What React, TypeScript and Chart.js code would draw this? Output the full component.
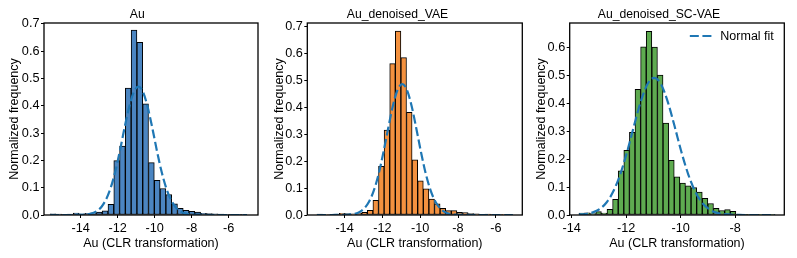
import React, { useEffect, useRef } from 'react';
import { Chart, registerables } from 'chart.js';

Chart.register(...registerables);

const FONT = "'Liberation Sans', Arial, Helvetica, sans-serif";

// ---------- Panel 1: Au ----------
const auBinCenters = [
  -15.494, -15.181, -14.869, -14.556, -14.243, -13.930, -13.618, -13.305, -12.992, -12.680,
  -12.367, -12.054, -11.742, -11.429, -11.116, -10.804, -10.491, -10.178, -9.865, -9.553,
  -9.240, -8.927, -8.615, -8.302, -7.989, -7.677, -7.364, -7.051, -6.738, -6.426,
  -6.113, -5.800, -5.488, -5.175,
];
const auFreq = [
  0.004, 0.003, 0.002, 0.003, 0.007, 0.004, 0.006, 0.008, 0.011, 0.015,
  0.039, 0.199, 0.252, 0.465, 0.677, 0.632, 0.407, 0.192, 0.127, 0.097,
  0.075, 0.041, 0.024, 0.017, 0.013, 0.011, 0.006, 0.005, 0.004, 0.003,
  0.002, 0.002, 0.001, 0.001,
];
const auFitX = [
  -15.65, -14.38, -13.88, -13.38, -13.13, -12.88, -12.63, -12.38, -12.13, -11.88,
  -11.63, -11.38, -11.13, -10.88, -10.63, -10.38, -10.13, -9.88, -9.63, -9.38,
  -9.13, -8.88, -8.63, -8.38, -7.88, -7.38, -5.02,
];
const auFitY = [
  0, 0.0001, 0.0009, 0.0062, 0.0142, 0.0295, 0.0566, 0.099, 0.159, 0.235,
  0.319, 0.395, 0.45, 0.47, 0.45, 0.395, 0.319, 0.235, 0.159, 0.099,
  0.0566, 0.0295, 0.0142, 0.0062, 0.0009, 0.0001, 0,
];

// ---------- Panel 2: Au_denoised_VAE ----------
const vaeBinCenters = [
  -15.312, -15.016, -14.720, -14.424, -14.128, -13.832, -13.536, -13.240, -12.944, -12.648,
  -12.352, -12.056, -11.760, -11.464, -11.168, -10.872, -10.576, -10.280, -9.984, -9.688,
  -9.392, -9.096, -8.800, -8.504, -8.208, -7.912, -7.616, -7.320, -7.024, -6.728,
  -6.432, -6.136, -5.840, -5.544, -5.248,
];
const vaeFreq = [
  0.003, 0.002, 0.002, 0.003, 0.006, 0.005, 0.004, 0.006, 0.010, 0.017,
  0.055, 0.181, 0.316, 0.563, 0.684, 0.585, 0.382, 0.205, 0.127, 0.097,
  0.059, 0.042, 0.025, 0.016, 0.016, 0.010, 0.009, 0.005, 0.004, 0.002,
  0.003, 0.001, 0.002, 0.001, 0.002,
];
const vaeFitX = [
  -15.46, -14.45, -13.95, -13.45, -13.2, -12.95, -12.7, -12.45, -12.2, -11.95,
  -11.7, -11.45, -11.2, -10.95, -10.7, -10.45, -10.2, -9.95, -9.7, -9.45,
  -9.2, -8.95, -8.7, -8.45, -7.95, -7.45, -5.1,
];
const vaeFitY = [
  0, 0.0001, 0.0006, 0.0047, 0.0113, 0.0249, 0.05, 0.0914, 0.152, 0.2315,
  0.32, 0.404, 0.465, 0.487, 0.465, 0.404, 0.32, 0.2315, 0.152, 0.0914,
  0.05, 0.0249, 0.0113, 0.0047, 0.0006, 0.0001, 0,
];

// ---------- Panel 3: Au_denoised_SC-VAE ----------
const scBinCenters = [
  -13.627, -13.4215, -13.216, -13.0105, -12.805, -12.5995, -12.394, -12.1885, -11.983, -11.7775,
  -11.572, -11.3665, -11.161, -10.9555, -10.75, -10.5445, -10.339, -10.1335, -9.928, -9.7225,
  -9.517, -9.3115, -9.106, -8.9005, -8.695, -8.4895, -8.284, -8.0785, -7.873, -7.6675,
  -7.462, -7.2565, -7.051, -6.8455, -6.64,
];
const scFreq = [
  0.007, 0.008, 0.005, 0.012, 0.007, 0.02, 0.056, 0.158, 0.231, 0.295,
  0.449, 0.601, 0.656, 0.6, 0.5, 0.328, 0.195, 0.136, 0.114, 0.104,
  0.098, 0.082, 0.06, 0.041, 0.024, 0.016, 0.019, 0.013, 0.003, 0.001,
  0.002, 0.001, 0.001, 0.001, 0.002,
];
const scFitX = [
  -13.73, -13.47, -13.22, -12.97, -12.72, -12.47, -12.22, -11.97, -11.72, -11.47,
  -11.22, -10.97, -10.72, -10.47, -10.22, -9.97, -9.72, -9.47, -9.22, -8.97,
  -8.72, -8.47, -7.97, -7.47, -6.54,
];
const scFitY = [
  0.0013, 0.0037, 0.0094, 0.0215, 0.0448, 0.0845, 0.1446, 0.224, 0.316, 0.403,
  0.467, 0.49, 0.467, 0.403, 0.316, 0.224, 0.1446, 0.0845, 0.0448, 0.0215,
  0.0094, 0.0037, 0.0004, 0, 0,
];

// ---------- Ticks ----------
const xTicksWide = [-14, -12, -10, -8, -6];
const xTickLabelsWide = ['-14', '-12', '-10', '-8', '-6'];
const xTicksNarrow = [-14, -12, -10, -8];
const xTickLabelsNarrow = ['-14', '-12', '-10', '-8'];
const yTicks7 = [0, 0.1, 0.2, 0.3, 0.4, 0.5, 0.6, 0.7];
const yTickLabels7 = ['0.0', '0.1', '0.2', '0.3', '0.4', '0.5', '0.6', '0.7'];
const yTicks6 = [0, 0.1, 0.2, 0.3, 0.4, 0.5, 0.6];
const yTickLabels6 = ['0.0', '0.1', '0.2', '0.3', '0.4', '0.5', '0.6'];

const FIT_COLOR = '#1f77b4';

type PanelProps = {
  title: string;
  centers: number[];
  freq: number[];
  fitX: number[];
  fitY: number[];
  barColor: string;
  xMin: number;
  xMax: number;
  yMax: number;
  xTicks: number[];
  xLabels: string[];
  yTicks: number[];
  yLabels: string[];
  left: number;
  width: number;
  padL: number;
  padR: number;
  yAxisW: number;
  yTitlePad: number;
  legend?: boolean;
};

const framePlugin = {
  id: 'frame',
  afterDatasetsDraw(chart: any) {
    const { ctx, chartArea } = chart;
    const { left, top, right, bottom } = chartArea;
    ctx.save();
    ctx.strokeStyle = '#000';
    ctx.lineWidth = 1.3;
    ctx.strokeRect(left, top, right - left, bottom - top);
    ctx.restore();
  },
};

const legendPlugin = {
  id: 'fitLegend',
  afterDraw(chart: any) {
    const opts = chart.options.plugins.fitLegend;
    if (!opts || !opts.display) return;
    const { ctx, chartArea } = chart;
    ctx.save();
    ctx.font = `12.5px ${FONT}`;
    ctx.fillStyle = '#000';
    ctx.textBaseline = 'middle';
    ctx.textAlign = 'left';
    const text = opts.text as string;
    const w = ctx.measureText(text).width;
    const textRight = chartArea.right - 10.5;
    const textLeft = textRight - w;
    const y = chartArea.top + 13;
    ctx.fillText(text, textLeft, y + 0.5);
    ctx.strokeStyle = FIT_COLOR;
    ctx.lineWidth = 2.2;
    ctx.setLineDash([9, 3.6]);
    ctx.beginPath();
    ctx.moveTo(textLeft - 30.5, y);
    ctx.lineTo(textLeft - 8.3, y);
    ctx.stroke();
    ctx.restore();
  },
};

function Panel(p: PanelProps) {
  const ref = useRef<HTMLCanvasElement | null>(null);
  useEffect(() => {
    if (!ref.current) return;
    const tickFont = { family: FONT, size: 12.7 };
    const gridCfg = {
      display: true,
      drawOnChartArea: false,
      drawTicks: true,
      tickLength: 3,
      color: '#000',
      lineWidth: 1,
      offset: false,
    };
    const chart = new Chart(ref.current, {
      type: 'bar',
      data: {
        datasets: [
          {
            type: 'line',
            label: 'Normal fit',
            data: p.fitX.map((x, i) => ({ x, y: p.fitY[i] })),
            borderColor: FIT_COLOR,
            borderWidth: 2.2,
            borderDash: [9, 3.6],
            pointRadius: 0,
            fill: false,
            cubicInterpolationMode: 'monotone',
            order: 0,
          } as any,
          {
            type: 'bar',
            label: p.title,
            data: p.centers.map((x, i) => ({ x, y: p.freq[i] })),
            backgroundColor: p.barColor,
            borderColor: '#000',
            borderWidth: 1,
            borderSkipped: false,
            barPercentage: 1,
            categoryPercentage: 1,
            order: 1,
          } as any,
        ],
      },
      options: {
        responsive: false,
        animation: false,
        events: [],
        layout: { padding: { left: p.padL, right: p.padR, top: 0, bottom: 0 } },
        plugins: {
          legend: { display: false },
          tooltip: { enabled: false },
          title: {
            display: true,
            text: p.title,
            color: '#000',
            font: { family: FONT, size: 12.2, weight: 'normal' },
            padding: { top: 7.7, bottom: 0.66 },
          },
          fitLegend: { display: !!p.legend, text: 'Normal fit' },
        } as any,
        scales: {
          x: {
            type: 'linear',
            min: p.xMin,
            max: p.xMax,
            offset: false,
            grid: gridCfg,
            border: { display: false },
            ticks: {
              color: '#000',
              font: tickFont,
              padding: 2.7,
              maxRotation: 0,
              autoSkip: false,
              callback: (_v: any, i: number) => p.xLabels[i],
            },
            afterBuildTicks: (s: any) => {
              s.ticks = p.xTicks.map((v) => ({ value: v }));
            },
            afterFit: (s: any) => {
              s.height = 43;
            },
            title: {
              display: true,
              text: 'Au (CLR transformation)',
              color: '#000',
              font: { family: FONT, size: 12.5 },
              padding: { top: 0, bottom: 7.2 },
            },
          } as any,
          y: {
            type: 'linear',
            min: 0,
            max: p.yMax,
            grid: gridCfg,
            border: { display: false },
            ticks: {
              color: '#000',
              font: tickFont,
              padding: 1.5,
              autoSkip: false,
              callback: (_v: any, i: number) => p.yLabels[i],
            },
            afterBuildTicks: (s: any) => {
              s.ticks = p.yTicks.map((v) => ({ value: v }));
            },
            afterFit: (s: any) => {
              s.width = p.yAxisW;
            },
            title: {
              display: true,
              text: 'Normalized frequency',
              color: '#000',
              font: { family: FONT, size: 12.5 },
              padding: { top: p.yTitlePad, bottom: 0 },
            },
          } as any,
        },
      },
      plugins: [framePlugin, legendPlugin],
    });
    return () => chart.destroy();
  }, []);
  return (
    <canvas
      ref={ref}
      width={p.width}
      height={258}
      style={{ position: 'absolute', left: p.left, top: 0, width: p.width, height: 258 }}
    />
  );
}

export default function App() {
  return (
    <div
      style={{
        position: 'absolute',
        left: 0,
        top: 0,
        width: 797,
        height: 258,
        background: '#fff',
        overflow: 'hidden',
      }}
    >
      <Panel
        title="Au"
        centers={auBinCenters}
        freq={auFreq}
        fitX={auFitX}
        fitY={auFitY}
        barColor="#4b85c1"
        xMin={-15.98}
        xMax={-4.42}
        yMax={0.703}
        xTicks={xTicksWide}
        xLabels={xTickLabelsWide}
        yTicks={yTicks7}
        yLabels={yTickLabels7}
        left={0}
        width={265}
        padL={16.6}
        padR={7}
        yAxisW={27.4}
        yTitlePad={-9.6}
      />
      <Panel
        title="Au_denoised_VAE"
        centers={vaeBinCenters}
        freq={vaeFreq}
        fitX={vaeFitX}
        fitY={vaeFitY}
        barColor="#f3913f"
        xMin={-15.97}
        xMax={-4.6}
        yMax={0.714}
        xTicks={xTicksWide}
        xLabels={xTickLabelsWide}
        yTicks={yTicks7}
        yLabels={yTickLabels7}
        left={265}
        width={265}
        padL={7.7}
        padR={7.7}
        yAxisW={34.6}
        yTitlePad={-0.5}
      />
      <Panel
        title="Au_denoised_SC-VAE"
        centers={scBinCenters}
        freq={scFreq}
        fitX={scFitX}
        fitY={scFitY}
        barColor="#5eab50"
        xMin={-14.07}
        xMax={-6.2}
        yMax={0.686}
        xTicks={xTicksNarrow}
        xLabels={xTickLabelsNarrow}
        yTicks={yTicks6}
        yLabels={yTickLabels6}
        left={530}
        width={267}
        padL={3.7}
        padR={12.7}
        yAxisW={36}
        yTitlePad={0.5}
        legend
      />
    </div>
  );
}
